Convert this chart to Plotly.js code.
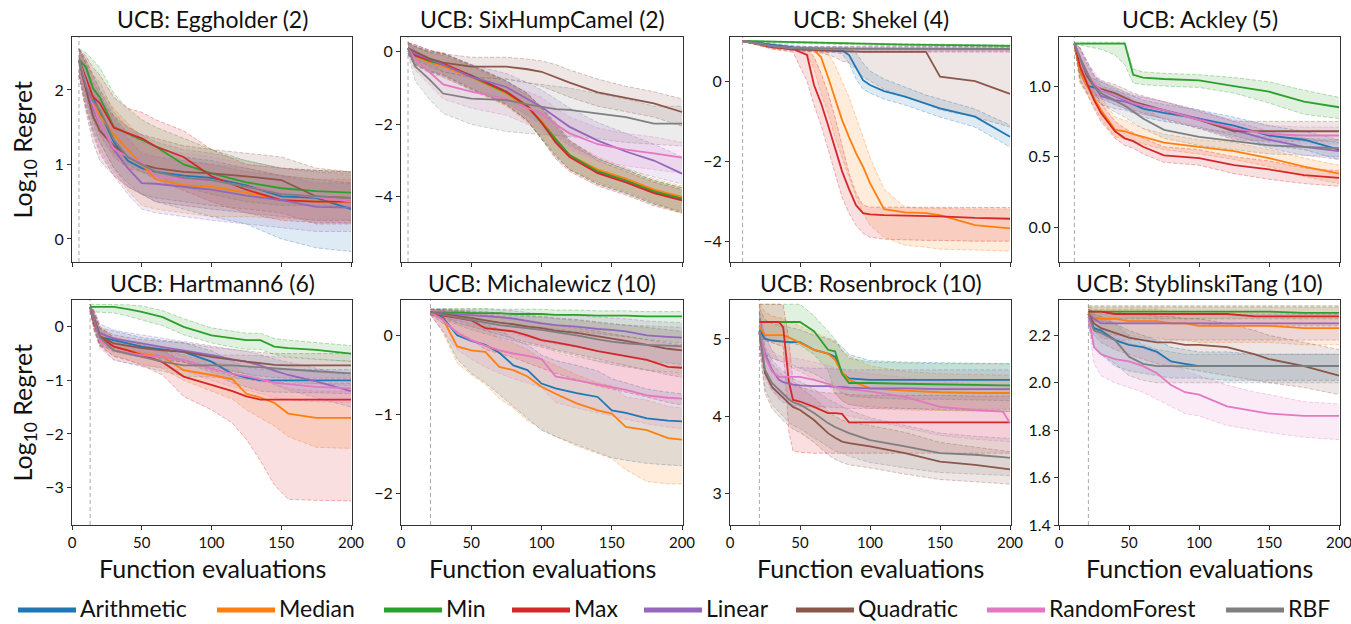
<!DOCTYPE html>
<html><head><meta charset="utf-8">
<script src="https://cdn.plot.ly/plotly-3.0.1.min.js"></script>
<style>body{margin:0;background:#fff}#chart{width:1351px;height:624px}</style>
</head><body><div id="chart"></div>
<script>
// ---------------- DATA ----------------
const METHODS = ['Arithmetic','Median','Min','Max','Linear','Quadratic','RandomForest','RBF'];
const TITLES = ['UCB: Eggholder (2)','UCB: SixHumpCamel (2)','UCB: Shekel (4)','UCB: Ackley (5)',
                'UCB: Hartmann6 (6)','UCB: Michalewicz (10)','UCB: Rosenbrock (10)','UCB: StyblinskiTang (10)'];
const X_TICKS = [0, 50, 100, 150, 200];
const Y_TICKS = [[0,1,2],[-4,-2,0],[-4,-2,0],[0,0.5,1.0],[-3,-2,-1,0],[-2,-1,0],[3,4,5],[1.4,1.6,1.8,2.0,2.2]];

// Eggholder (2)
const X_EGG = [5, 10, 15, 20, 30, 40, 50, 60, 80, 100, 125, 150, 175, 200];
const EGG_MEAN = [
 [2.40, 2.15, 1.90, 1.70, 1.30, 1.05, 0.95, 0.90, 0.85, 0.82, 0.72, 0.57, 0.55, 0.40],
 [2.40, 2.10, 1.85, 1.65, 1.40, 1.20, 1.00, 0.80, 0.72, 0.70, 0.62, 0.52, 0.50, 0.50],
 [2.41, 2.30, 2.02, 1.90, 1.50, 1.42, 1.33, 1.24, 1.00, 0.88, 0.76, 0.68, 0.64, 0.62],
 [2.40, 2.16, 1.91, 1.82, 1.49, 1.42, 1.35, 1.24, 1.10, 0.84, 0.66, 0.52, 0.50, 0.50],
 [2.40, 2.05, 1.75, 1.55, 1.20, 0.95, 0.75, 0.74, 0.70, 0.66, 0.58, 0.52, 0.43, 0.42],
 [2.40, 2.00, 1.65, 1.45, 1.25, 1.10, 1.00, 0.95, 0.90, 0.88, 0.84, 0.79, 0.57, 0.55],
 [2.40, 2.10, 1.80, 1.55, 1.21, 1.10, 1.03, 0.84, 0.80, 0.79, 0.70, 0.61, 0.56, 0.50],
 [2.40, 2.05, 1.85, 1.73, 1.33, 1.10, 1.00, 0.90, 0.82, 0.79, 0.70, 0.60, 0.57, 0.55]];
const EGG_LO = [
 [2.20, 1.85, 1.55, 1.30, 0.95, 0.75, 0.60, 0.50, 0.40, 0.30, 0.20, 0.00, -0.12, -0.17],
 [2.20, 1.80, 1.45, 1.20, 0.90, 0.65, 0.45, 0.40, 0.35, 0.30, 0.30, 0.28, 0.25, 0.25],
 [2.30, 2.00, 1.70, 1.50, 1.15, 1.00, 0.90, 0.85, 0.70, 0.60, 0.50, 0.45, 0.45, 0.42],
 [2.25, 1.90, 1.60, 1.40, 1.10, 0.95, 0.90, 0.80, 0.65, 0.50, 0.35, 0.25, 0.22, 0.22],
 [2.20, 1.75, 1.40, 1.15, 0.85, 0.60, 0.40, 0.35, 0.30, 0.25, 0.20, 0.15, 0.10, 0.10],
 [2.20, 1.70, 1.30, 1.05, 0.85, 0.70, 0.60, 0.55, 0.50, 0.45, 0.40, 0.35, 0.20, 0.20],
 [2.20, 1.80, 1.45, 1.15, 0.85, 0.70, 0.60, 0.50, 0.45, 0.40, 0.35, 0.30, 0.25, 0.20],
 [2.20, 1.75, 1.45, 1.30, 0.95, 0.70, 0.60, 0.50, 0.45, 0.40, 0.35, 0.30, 0.25, 0.25]];
const EGG_HI = [
 [2.55, 2.40, 2.20, 2.00, 1.65, 1.40, 1.30, 1.25, 1.10, 1.05, 0.95, 0.85, 0.80, 0.75],
 [2.55, 2.40, 2.20, 2.00, 1.75, 1.55, 1.35, 1.20, 1.05, 1.00, 0.95, 0.85, 0.80, 0.80],
 [2.55, 2.50, 2.40, 2.30, 1.95, 1.75, 1.60, 1.50, 1.35, 1.20, 1.05, 0.95, 0.92, 0.90],
 [2.55, 2.45, 2.30, 2.20, 1.90, 1.75, 1.70, 1.60, 1.45, 1.20, 1.00, 0.95, 0.92, 0.90],
 [2.55, 2.35, 2.10, 1.95, 1.60, 1.35, 1.15, 1.10, 1.05, 1.00, 0.90, 0.85, 0.75, 0.75],
 [2.55, 2.35, 2.05, 1.85, 1.65, 1.50, 1.40, 1.35, 1.25, 1.20, 1.15, 1.10, 0.95, 0.90],
 [2.55, 2.40, 2.15, 1.95, 1.60, 1.45, 1.40, 1.20, 1.15, 1.10, 1.00, 0.95, 0.90, 0.85],
 [2.55, 2.35, 2.20, 2.10, 1.70, 1.50, 1.40, 1.30, 1.20, 1.15, 1.05, 0.95, 0.90, 0.88]];

// SixHumpCamel (2)
const X_SHC = [5, 10, 20, 30, 50, 75, 90, 100, 110, 120, 140, 160, 180, 200];
const SHC_MEAN = [
 [0.10, -0.10, -0.25, -0.35, -0.65, -1.10, -1.50, -1.95, -2.45, -2.85, -3.30, -3.55, -3.85, -4.05],
 [0.10, -0.12, -0.28, -0.40, -0.70, -1.15, -1.55, -1.90, -2.40, -2.85, -3.25, -3.50, -3.80, -4.00],
 [0.10, -0.10, -0.25, -0.35, -0.68, -1.12, -1.50, -1.95, -2.40, -2.85, -3.30, -3.55, -3.85, -4.05],
 [0.10, -0.10, -0.22, -0.32, -0.66, -1.10, -1.50, -1.95, -2.50, -2.90, -3.35, -3.60, -3.90, -4.10],
 [0.10, -0.05, -0.20, -0.35, -0.69, -0.97, -1.30, -1.52, -1.80, -2.07, -2.45, -2.75, -3.00, -3.36],
 [0.10, 0.00, -0.18, -0.30, -0.41, -0.41, -0.48, -0.55, -0.70, -0.85, -1.12, -1.28, -1.42, -1.66],
 [0.10, -0.20, -0.55, -0.90, -1.10, -1.30, -1.55, -1.70, -2.00, -2.25, -2.55, -2.70, -2.80, -2.92],
 [0.10, -0.40, -0.75, -1.15, -1.29, -1.33, -1.45, -1.52, -1.58, -1.60, -1.70, -1.80, -1.98, -1.98]];
const SHC_LO = [
 [-0.05, -0.35, -0.55, -0.65, -1.00, -1.45, -1.90, -2.40, -2.90, -3.25, -3.65, -3.90, -4.20, -4.40],
 [-0.05, -0.37, -0.58, -0.70, -1.05, -1.50, -1.95, -2.35, -2.85, -3.25, -3.60, -3.85, -4.15, -4.45],
 [-0.05, -0.35, -0.55, -0.65, -1.03, -1.47, -1.90, -2.40, -2.85, -3.25, -3.65, -3.90, -4.20, -4.45],
 [-0.05, -0.35, -0.52, -0.62, -1.01, -1.45, -1.90, -2.40, -2.95, -3.30, -3.70, -3.95, -4.25, -4.45],
 [-0.05, -0.30, -0.50, -0.70, -1.05, -1.40, -1.75, -2.00, -2.30, -2.60, -2.95, -3.25, -3.45, -3.65],
 [-0.05, -0.20, -0.40, -0.55, -0.70, -0.75, -0.85, -0.95, -1.10, -1.25, -1.50, -1.65, -1.80, -2.05],
 [-0.05, -0.50, -0.90, -1.30, -1.55, -1.75, -2.00, -2.15, -2.45, -2.70, -3.00, -3.15, -3.25, -3.35],
 [-0.05, -0.80, -1.30, -1.70, -2.00, -2.20, -2.25, -2.28, -2.30, -2.32, -2.40, -2.50, -2.55, -2.60]];
const SHC_HI = [
 [0.25, 0.15, 0.00, -0.05, -0.35, -0.80, -1.15, -1.55, -2.00, -2.45, -2.95, -3.25, -3.55, -3.75],
 [0.25, 0.13, -0.03, -0.10, -0.40, -0.85, -1.20, -1.50, -1.95, -2.45, -2.90, -3.20, -3.50, -3.70],
 [0.25, 0.15, 0.00, -0.05, -0.38, -0.82, -1.15, -1.55, -1.95, -2.45, -2.95, -3.25, -3.55, -3.75],
 [0.25, 0.15, 0.03, -0.02, -0.36, -0.80, -1.15, -1.55, -2.05, -2.50, -3.00, -3.30, -3.60, -3.80],
 [0.25, 0.20, 0.05, -0.05, -0.35, -0.60, -0.85, -1.05, -1.30, -1.55, -1.95, -2.25, -2.55, -2.90],
 [0.25, 0.20, 0.05, -0.05, -0.15, -0.15, -0.20, -0.25, -0.35, -0.50, -0.75, -0.95, -1.10, -1.30],
 [0.25, 0.05, -0.20, -0.50, -0.70, -0.85, -1.10, -1.25, -1.55, -1.80, -2.10, -2.25, -2.35, -2.50],
 [0.25, 0.05, -0.25, -0.55, -0.70, -0.75, -0.85, -0.90, -0.95, -1.00, -1.15, -1.30, -1.50, -1.50]];

// Shekel (4)
const X_SHK = [9, 30, 45, 55, 60, 65, 70, 75, 80, 85, 90, 95, 100, 110, 125, 140, 150, 175, 200];
const SHK_MEAN = [
 [1.00, 0.90, 0.84, 0.82, 0.81, 0.80, 0.80, 0.79, 0.77, 0.65, 0.35, 0.02, -0.10, -0.25, -0.39, -0.57, -0.68, -0.89, -1.39],
 [1.00, 0.85, 0.80, 0.80, 0.77, 0.60, 0.10, -0.45, -0.97, -1.40, -1.80, -2.14, -2.55, -3.20, -3.28, -3.30, -3.35, -3.60, -3.68],
 [1.00, 0.98, 0.97, 0.96, 0.96, 0.95, 0.95, 0.95, 0.94, 0.94, 0.93, 0.93, 0.92, 0.92, 0.91, 0.90, 0.90, 0.89, 0.88],
 [1.00, 0.85, 0.80, 0.65, -0.10, -0.55, -1.10, -1.70, -2.25, -2.70, -3.10, -3.30, -3.33, -3.35, -3.36, -3.38, -3.38, -3.42, -3.44],
 [1.00, 0.88, 0.82, 0.81, 0.80, 0.80, 0.80, 0.80, 0.80, 0.80, 0.80, 0.80, 0.80, 0.80, 0.80, 0.80, 0.80, 0.80, 0.80],
 [1.00, 0.86, 0.80, 0.78, 0.77, 0.76, 0.75, 0.75, 0.74, 0.74, 0.73, 0.73, 0.73, 0.73, 0.73, 0.73, 0.11, 0.00, -0.32],
 [1.00, 0.87, 0.82, 0.81, 0.81, 0.80, 0.80, 0.80, 0.80, 0.80, 0.80, 0.80, 0.80, 0.80, 0.80, 0.80, 0.79, 0.79, 0.79],
 [1.00, 0.87, 0.82, 0.81, 0.81, 0.81, 0.81, 0.81, 0.81, 0.81, 0.81, 0.81, 0.81, 0.81, 0.81, 0.81, 0.81, 0.80, 0.80]];
const SHK_LO = [
 [1.00, 0.85, 0.78, 0.75, 0.74, 0.73, 0.72, 0.71, 0.68, 0.45, 0.05, -0.20, -0.30, -0.45, -0.60, -0.78, -0.90, -1.15, -1.65],
 [1.00, 0.80, 0.75, 0.70, 0.30, -0.30, -0.80, -1.40, -1.90, -2.40, -2.90, -3.30, -3.60, -3.90, -4.10, -4.15, -4.20, -4.22, -4.25],
 [0.99, 0.95, 0.94, 0.93, 0.93, 0.92, 0.92, 0.92, 0.91, 0.91, 0.90, 0.90, 0.89, 0.89, 0.88, 0.87, 0.87, 0.86, 0.85],
 [1.00, 0.80, 0.72, 0.00, -0.60, -1.10, -1.70, -2.30, -2.90, -3.30, -3.60, -3.80, -3.90, -3.95, -3.97, -3.98, -3.98, -4.00, -4.00],
 [1.00, 0.84, 0.76, 0.74, 0.73, 0.73, 0.73, 0.73, 0.73, 0.73, 0.73, 0.73, 0.73, 0.73, 0.73, 0.73, 0.73, 0.73, 0.73],
 [1.00, 0.82, 0.77, 0.76, 0.75, 0.70, 0.65, 0.60, 0.50, 0.45, 0.30, 0.10, 0.00, -0.20, -0.40, -0.57, -0.72, -0.90, -1.15],
 [1.00, 0.83, 0.76, 0.73, 0.72, 0.72, 0.72, 0.72, 0.72, 0.72, 0.72, 0.72, 0.72, 0.72, 0.72, 0.72, 0.72, 0.72, 0.72],
 [1.00, 0.84, 0.77, 0.75, 0.75, 0.75, 0.75, 0.75, 0.75, 0.75, 0.75, 0.75, 0.75, 0.75, 0.75, 0.75, 0.75, 0.75, 0.75]];
const SHK_HI = [
 [1.00, 0.93, 0.88, 0.86, 0.86, 0.85, 0.85, 0.85, 0.85, 0.82, 0.70, 0.45, 0.25, 0.05, -0.15, -0.35, -0.45, -0.70, -1.10],
 [1.00, 0.90, 0.85, 0.85, 0.82, 0.80, 0.70, 0.40, 0.00, -0.40, -0.90, -1.40, -1.90, -2.70, -3.15, -3.18, -3.18, -3.20, -3.20],
 [1.01, 1.00, 0.99, 0.98, 0.98, 0.97, 0.97, 0.97, 0.96, 0.96, 0.95, 0.95, 0.94, 0.94, 0.93, 0.92, 0.92, 0.91, 0.90],
 [1.00, 0.90, 0.85, 0.82, 0.60, 0.20, -0.30, -0.90, -1.60, -2.30, -2.80, -3.10, -3.15, -3.15, -3.15, -3.15, -3.15, -3.16, -3.16],
 [1.00, 0.92, 0.87, 0.86, 0.86, 0.86, 0.86, 0.86, 0.86, 0.86, 0.86, 0.86, 0.86, 0.86, 0.86, 0.86, 0.86, 0.86, 0.86],
 [1.00, 0.90, 0.84, 0.83, 0.82, 0.82, 0.82, 0.82, 0.82, 0.82, 0.82, 0.82, 0.82, 0.82, 0.82, 0.82, 0.82, 0.82, 0.82],
 [1.00, 0.91, 0.86, 0.85, 0.85, 0.85, 0.85, 0.85, 0.85, 0.85, 0.85, 0.85, 0.85, 0.85, 0.85, 0.85, 0.85, 0.85, 0.85],
 [1.00, 0.91, 0.86, 0.85, 0.85, 0.85, 0.85, 0.85, 0.85, 0.85, 0.85, 0.85, 0.85, 0.85, 0.85, 0.85, 0.85, 0.85, 0.85]];

// Ackley (5)
const X_ACK = [11, 15, 20, 25, 30, 40, 47, 53, 60, 75, 100, 125, 150, 175, 200];
const ACK_MEAN = [
 [1.30, 1.10, 1.00, 0.99, 0.97, 0.93, 0.90, 0.87, 0.84, 0.81, 0.77, 0.72, 0.65, 0.62, 0.55],
 [1.30, 1.10, 1.00, 0.92, 0.83, 0.69, 0.68, 0.66, 0.64, 0.60, 0.57, 0.54, 0.49, 0.43, 0.38],
 [1.30, 1.30, 1.30, 1.30, 1.30, 1.30, 1.30, 1.08, 1.06, 1.05, 1.04, 1.00, 0.96, 0.89, 0.85],
 [1.30, 1.14, 1.02, 0.90, 0.81, 0.68, 0.63, 0.61, 0.57, 0.51, 0.49, 0.44, 0.41, 0.37, 0.35],
 [1.30, 1.20, 1.10, 1.00, 0.93, 0.90, 0.89, 0.87, 0.86, 0.83, 0.77, 0.69, 0.62, 0.57, 0.54],
 [1.30, 1.20, 1.07, 1.00, 0.98, 0.95, 0.92, 0.89, 0.87, 0.83, 0.76, 0.68, 0.68, 0.68, 0.68],
 [1.30, 1.20, 1.09, 1.02, 0.97, 0.93, 0.90, 0.88, 0.86, 0.83, 0.76, 0.70, 0.66, 0.65, 0.65],
 [1.30, 1.20, 1.09, 1.00, 0.95, 0.90, 0.86, 0.82, 0.77, 0.69, 0.64, 0.61, 0.58, 0.57, 0.56]];
const ACK_LO = [
 [1.29, 1.03, 0.95, 0.93, 0.91, 0.87, 0.84, 0.81, 0.78, 0.75, 0.71, 0.65, 0.58, 0.55, 0.48],
 [1.29, 1.02, 0.94, 0.86, 0.77, 0.64, 0.63, 0.61, 0.59, 0.55, 0.52, 0.48, 0.43, 0.36, 0.31],
 [1.29, 1.29, 1.28, 1.27, 1.26, 1.22, 1.15, 1.02, 1.01, 1.00, 0.99, 0.95, 0.88, 0.80, 0.77],
 [1.29, 1.05, 0.95, 0.84, 0.75, 0.63, 0.58, 0.56, 0.52, 0.46, 0.44, 0.38, 0.34, 0.31, 0.29],
 [1.29, 1.12, 1.02, 0.93, 0.87, 0.84, 0.83, 0.81, 0.80, 0.77, 0.71, 0.63, 0.56, 0.51, 0.48],
 [1.29, 1.12, 1.00, 0.94, 0.92, 0.89, 0.86, 0.83, 0.81, 0.77, 0.70, 0.62, 0.61, 0.61, 0.61],
 [1.29, 1.12, 1.02, 0.95, 0.91, 0.87, 0.84, 0.82, 0.80, 0.77, 0.70, 0.64, 0.60, 0.59, 0.59],
 [1.29, 1.12, 1.00, 0.92, 0.87, 0.82, 0.78, 0.74, 0.70, 0.63, 0.58, 0.55, 0.52, 0.51, 0.50]];
const ACK_HI = [
 [1.31, 1.20, 1.08, 1.05, 1.03, 0.99, 0.96, 0.93, 0.90, 0.87, 0.83, 0.78, 0.72, 0.68, 0.62],
 [1.31, 1.20, 1.08, 1.00, 0.92, 0.78, 0.76, 0.73, 0.70, 0.66, 0.62, 0.60, 0.55, 0.49, 0.44],
 [1.31, 1.31, 1.31, 1.31, 1.31, 1.31, 1.31, 1.12, 1.10, 1.09, 1.08, 1.06, 1.03, 0.97, 0.92],
 [1.31, 1.22, 1.10, 0.97, 0.88, 0.75, 0.70, 0.67, 0.63, 0.57, 0.55, 0.50, 0.47, 0.42, 0.40],
 [1.31, 1.27, 1.18, 1.08, 1.00, 0.97, 0.95, 0.93, 0.92, 0.89, 0.83, 0.75, 0.68, 0.63, 0.60],
 [1.31, 1.27, 1.15, 1.07, 1.04, 1.01, 0.98, 0.95, 0.93, 0.89, 0.82, 0.75, 0.75, 0.75, 0.75],
 [1.31, 1.27, 1.17, 1.10, 1.04, 0.99, 0.96, 0.94, 0.92, 0.89, 0.82, 0.76, 0.72, 0.71, 0.71],
 [1.31, 1.27, 1.17, 1.08, 1.03, 0.98, 0.94, 0.90, 0.85, 0.76, 0.70, 0.67, 0.64, 0.63, 0.62]];

// Hartmann6 (6)
const X_HRT = [13, 16, 20, 30, 40, 50, 65, 80, 100, 115, 125, 135, 145, 155, 175, 200];
const HRT_MEAN = [
 [0.37, 0.10, -0.19, -0.25, -0.31, -0.37, -0.42, -0.47, -0.65, -0.88, -0.95, -1.00, -1.00, -1.00, -1.00, -1.00],
 [0.37, 0.15, -0.16, -0.37, -0.44, -0.50, -0.56, -0.81, -0.90, -0.98, -1.25, -1.32, -1.42, -1.62, -1.70, -1.70],
 [0.37, 0.37, 0.37, 0.37, 0.33, 0.28, 0.18, 0.00, -0.16, -0.22, -0.25, -0.25, -0.37, -0.40, -0.43, -0.50],
 [0.37, 0.05, -0.19, -0.37, -0.44, -0.53, -0.66, -0.93, -1.09, -1.20, -1.30, -1.36, -1.36, -1.36, -1.36, -1.36],
 [0.37, 0.15, -0.12, -0.22, -0.27, -0.31, -0.38, -0.44, -0.53, -0.61, -0.65, -0.72, -0.82, -0.90, -1.02, -1.20],
 [0.37, 0.12, -0.18, -0.31, -0.36, -0.40, -0.44, -0.47, -0.56, -0.62, -0.65, -0.68, -0.71, -0.72, -0.72, -0.72],
 [0.37, 0.10, -0.25, -0.44, -0.49, -0.53, -0.57, -0.62, -0.78, -0.88, -0.92, -0.98, -1.04, -1.07, -1.12, -1.15],
 [0.37, 0.10, -0.20, -0.44, -0.50, -0.56, -0.65, -0.72, -0.72, -0.72, -0.74, -0.76, -0.78, -0.80, -0.83, -0.87]];
const HRT_LO = [
 [0.30, -0.05, -0.35, -0.42, -0.48, -0.55, -0.60, -0.66, -0.85, -1.05, -1.12, -1.20, -1.22, -1.22, -1.23, -1.25],
 [0.30, 0.00, -0.35, -0.55, -0.62, -0.70, -0.78, -1.00, -1.20, -1.35, -1.55, -1.70, -1.85, -2.05, -2.25, -2.27],
 [0.30, 0.28, 0.27, 0.26, 0.20, 0.13, 0.02, -0.15, -0.30, -0.38, -0.42, -0.42, -0.52, -0.56, -0.60, -0.65],
 [0.30, -0.10, -0.35, -0.55, -0.62, -0.72, -0.90, -1.30, -1.55, -1.80, -2.10, -2.50, -2.95, -3.22, -3.24, -3.25],
 [0.30, 0.00, -0.28, -0.38, -0.43, -0.48, -0.55, -0.62, -0.72, -0.82, -0.88, -0.96, -1.08, -1.18, -1.32, -1.50],
 [0.30, -0.03, -0.33, -0.47, -0.52, -0.57, -0.62, -0.66, -0.76, -0.84, -0.88, -0.92, -0.95, -0.96, -0.96, -0.96],
 [0.30, -0.05, -0.40, -0.62, -0.68, -0.72, -0.76, -0.82, -1.00, -1.12, -1.18, -1.25, -1.32, -1.36, -1.40, -1.42],
 [0.30, -0.05, -0.36, -0.62, -0.68, -0.74, -0.84, -0.92, -0.94, -0.95, -0.97, -0.99, -1.01, -1.03, -1.06, -1.10]];
const HRT_HI = [
 [0.42, 0.25, -0.02, -0.08, -0.14, -0.20, -0.25, -0.30, -0.45, -0.65, -0.75, -0.80, -0.80, -0.80, -0.80, -0.80],
 [0.42, 0.30, 0.02, -0.20, -0.27, -0.32, -0.38, -0.55, -0.65, -0.72, -0.90, -1.00, -1.05, -1.15, -1.20, -1.20],
 [0.42, 0.42, 0.42, 0.42, 0.41, 0.39, 0.30, 0.15, -0.02, -0.08, -0.12, -0.12, -0.22, -0.25, -0.30, -0.35],
 [0.42, 0.25, -0.02, -0.20, -0.26, -0.34, -0.45, -0.65, -0.80, -0.92, -0.98, -1.02, -1.04, -1.05, -1.05, -1.05],
 [0.42, 0.30, 0.05, -0.06, -0.11, -0.15, -0.22, -0.28, -0.36, -0.42, -0.46, -0.52, -0.60, -0.66, -0.78, -0.92],
 [0.42, 0.27, -0.03, -0.15, -0.20, -0.24, -0.27, -0.30, -0.38, -0.43, -0.45, -0.48, -0.50, -0.50, -0.50, -0.50],
 [0.42, 0.25, -0.08, -0.27, -0.31, -0.35, -0.38, -0.42, -0.56, -0.65, -0.68, -0.73, -0.78, -0.80, -0.85, -0.88],
 [0.42, 0.25, -0.04, -0.27, -0.32, -0.38, -0.46, -0.52, -0.52, -0.52, -0.53, -0.54, -0.56, -0.58, -0.61, -0.64]];

// Michalewicz (10)
const X_MCH = [21, 30, 40, 50, 60, 70, 80, 90, 100, 110, 125, 140, 150, 160, 175, 190, 200];
const MCH_MEAN = [
 [0.29, 0.22, 0.00, -0.07, -0.12, -0.22, -0.38, -0.44, -0.61, -0.67, -0.73, -0.78, -0.95, -0.98, -1.05, -1.08, -1.09],
 [0.29, 0.20, -0.14, -0.19, -0.21, -0.40, -0.44, -0.52, -0.65, -0.74, -0.86, -0.95, -0.99, -1.16, -1.20, -1.30, -1.32],
 [0.29, 0.29, 0.29, 0.28, 0.28, 0.28, 0.27, 0.27, 0.27, 0.26, 0.26, 0.25, 0.25, 0.25, 0.24, 0.24, 0.24],
 [0.29, 0.25, 0.22, 0.19, 0.09, 0.07, 0.05, 0.00, -0.06, -0.09, -0.14, -0.20, -0.23, -0.26, -0.31, -0.40, -0.41],
 [0.29, 0.28, 0.27, 0.26, 0.25, 0.23, 0.21, 0.18, 0.15, 0.13, 0.11, 0.08, 0.07, 0.05, 0.00, -0.02, -0.03],
 [0.29, 0.27, 0.24, 0.22, 0.19, 0.16, 0.14, 0.11, 0.09, 0.06, 0.03, -0.01, -0.04, -0.07, -0.12, -0.17, -0.19],
 [0.29, 0.19, 0.03, -0.06, -0.13, -0.19, -0.23, -0.26, -0.30, -0.52, -0.57, -0.62, -0.65, -0.69, -0.76, -0.79, -0.80],
 [0.29, 0.26, 0.22, 0.19, 0.16, 0.13, 0.11, 0.09, 0.07, 0.04, 0.00, -0.05, -0.08, -0.10, -0.12, -0.13, -0.14]];
const MCH_LO = [
 [0.26, 0.05, -0.30, -0.48, -0.60, -0.75, -0.90, -1.05, -1.20, -1.28, -1.38, -1.48, -1.55, -1.58, -1.62, -1.64, -1.65],
 [0.26, 0.03, -0.35, -0.50, -0.62, -0.80, -0.92, -1.08, -1.18, -1.28, -1.40, -1.50, -1.56, -1.70, -1.85, -1.88, -1.88],
 [0.26, 0.24, 0.22, 0.20, 0.18, 0.16, 0.14, 0.12, 0.10, 0.08, 0.05, 0.02, 0.00, -0.02, -0.05, -0.08, -0.10],
 [0.26, 0.15, 0.05, -0.05, -0.18, -0.23, -0.28, -0.35, -0.42, -0.48, -0.56, -0.64, -0.68, -0.72, -0.78, -0.85, -0.88],
 [0.26, 0.22, 0.18, 0.14, 0.11, 0.07, 0.03, -0.02, -0.07, -0.11, -0.15, -0.20, -0.23, -0.26, -0.32, -0.35, -0.37],
 [0.26, 0.21, 0.16, 0.11, 0.06, 0.01, -0.04, -0.09, -0.13, -0.18, -0.24, -0.30, -0.34, -0.38, -0.44, -0.50, -0.53],
 [0.26, 0.05, -0.18, -0.30, -0.40, -0.48, -0.55, -0.60, -0.66, -0.85, -0.92, -0.98, -1.02, -1.06, -1.12, -1.16, -1.18],
 [0.26, 0.20, 0.13, 0.07, 0.02, -0.03, -0.07, -0.11, -0.15, -0.20, -0.26, -0.33, -0.37, -0.40, -0.44, -0.46, -0.48]];
const MCH_HI = [
 [0.33, 0.32, 0.22, 0.18, 0.14, 0.08, -0.05, -0.12, -0.25, -0.32, -0.38, -0.45, -0.55, -0.60, -0.68, -0.72, -0.74],
 [0.33, 0.32, 0.15, 0.12, 0.10, -0.05, -0.10, -0.18, -0.30, -0.38, -0.50, -0.60, -0.64, -0.78, -0.82, -0.90, -0.92],
 [0.33, 0.34, 0.34, 0.34, 0.34, 0.33, 0.33, 0.33, 0.33, 0.32, 0.32, 0.31, 0.31, 0.31, 0.30, 0.30, 0.30],
 [0.33, 0.32, 0.31, 0.30, 0.26, 0.24, 0.22, 0.19, 0.16, 0.13, 0.09, 0.05, 0.02, -0.01, -0.05, -0.10, -0.12],
 [0.33, 0.33, 0.33, 0.33, 0.33, 0.32, 0.31, 0.29, 0.27, 0.26, 0.25, 0.23, 0.22, 0.21, 0.18, 0.17, 0.16],
 [0.33, 0.33, 0.32, 0.31, 0.30, 0.28, 0.27, 0.25, 0.24, 0.22, 0.20, 0.17, 0.15, 0.13, 0.10, 0.07, 0.05],
 [0.33, 0.30, 0.20, 0.14, 0.09, 0.04, 0.01, -0.02, -0.05, -0.22, -0.28, -0.32, -0.35, -0.38, -0.44, -0.48, -0.50],
 [0.33, 0.33, 0.31, 0.29, 0.28, 0.26, 0.25, 0.24, 0.23, 0.21, 0.19, 0.16, 0.14, 0.13, 0.12, 0.11, 0.10]];

// Rosenbrock (10)
const X_RSB = [21, 25, 30, 35, 38, 42, 45, 50, 60, 70, 75, 80, 85, 100, 125, 150, 175, 195, 200];
const RSB_MEAN = [
 [5.12, 5.00, 4.98, 4.97, 4.96, 4.96, 4.96, 4.96, 4.86, 4.81, 4.77, 4.56, 4.49, 4.47, 4.47, 4.47, 4.47, 4.47, 4.47],
 [5.16, 5.05, 5.05, 5.05, 5.05, 5.02, 4.99, 4.95, 4.86, 4.81, 4.73, 4.56, 4.47, 4.36, 4.33, 4.31, 4.30, 4.30, 4.30],
 [5.22, 5.22, 5.22, 5.22, 5.22, 5.22, 5.22, 5.22, 5.10, 4.86, 4.84, 4.55, 4.43, 4.43, 4.42, 4.41, 4.40, 4.40, 4.40],
 [5.22, 5.22, 5.22, 5.22, 5.15, 4.45, 4.21, 4.19, 4.12, 4.04, 4.04, 4.03, 3.92, 3.92, 3.92, 3.92, 3.92, 3.92, 3.92],
 [5.07, 4.81, 4.60, 4.47, 4.44, 4.42, 4.41, 4.40, 4.39, 4.39, 4.38, 4.38, 4.37, 4.36, 4.36, 4.35, 4.35, 4.35, 4.35],
 [5.10, 4.56, 4.38, 4.29, 4.23, 4.17, 4.12, 4.08, 3.95, 3.78, 3.72, 3.67, 3.65, 3.61, 3.52, 3.41, 3.37, 3.32, 3.31],
 [5.10, 4.77, 4.58, 4.51, 4.51, 4.51, 4.51, 4.51, 4.47, 4.42, 4.38, 4.36, 4.35, 4.32, 4.25, 4.12, 4.08, 4.06, 3.91],
 [5.10, 4.60, 4.43, 4.34, 4.29, 4.22, 4.18, 4.15, 4.04, 3.91, 3.86, 3.82, 3.78, 3.69, 3.61, 3.52, 3.50, 3.47, 3.46]];
const RSB_LO = [
 [4.95, 4.80, 4.75, 4.72, 4.70, 4.68, 4.66, 4.62, 4.55, 4.45, 4.38, 4.30, 4.26, 4.24, 4.22, 4.22, 4.21, 4.20, 4.20],
 [4.95, 4.80, 4.75, 4.72, 4.70, 4.66, 4.62, 4.58, 4.48, 4.40, 4.30, 4.20, 4.15, 4.10, 4.08, 4.07, 4.06, 4.06, 4.06],
 [5.00, 5.00, 4.98, 4.97, 4.96, 4.95, 4.94, 4.92, 4.80, 4.60, 4.30, 4.20, 4.15, 4.12, 4.10, 4.08, 4.07, 4.06, 4.06],
 [5.00, 4.98, 4.95, 4.92, 4.90, 3.80, 3.55, 3.53, 3.52, 3.52, 3.52, 3.52, 3.52, 3.52, 3.52, 3.52, 3.52, 3.52, 3.52],
 [4.90, 4.55, 4.35, 4.22, 4.18, 4.15, 4.14, 4.13, 4.12, 4.12, 4.11, 4.11, 4.10, 4.10, 4.10, 4.09, 4.09, 4.09, 4.09],
 [4.90, 4.30, 4.10, 4.00, 3.94, 3.88, 3.83, 3.79, 3.66, 3.50, 3.44, 3.40, 3.37, 3.33, 3.25, 3.18, 3.15, 3.13, 3.12],
 [4.90, 4.50, 4.32, 4.25, 4.24, 4.23, 4.22, 4.20, 4.15, 4.10, 4.05, 4.02, 4.00, 3.95, 3.85, 3.75, 3.70, 3.68, 3.67],
 [4.90, 4.35, 4.15, 4.05, 4.00, 3.92, 3.88, 3.84, 3.72, 3.60, 3.55, 3.52, 3.48, 3.40, 3.33, 3.27, 3.25, 3.24, 3.23]];
const RSB_HI = [
 [5.40, 5.25, 5.20, 5.18, 5.17, 5.15, 5.14, 5.12, 5.05, 5.00, 4.96, 4.90, 4.80, 4.72, 4.70, 4.69, 4.68, 4.68, 4.68],
 [5.45, 5.35, 5.30, 5.28, 5.26, 5.22, 5.20, 5.17, 5.08, 5.02, 4.98, 4.85, 4.78, 4.65, 4.58, 4.55, 4.54, 4.53, 4.53],
 [5.45, 5.45, 5.45, 5.45, 5.45, 5.45, 5.45, 5.45, 5.30, 5.10, 5.00, 4.85, 4.75, 4.70, 4.69, 4.68, 4.68, 4.68, 4.68],
 [5.45, 5.45, 5.45, 5.45, 5.44, 5.00, 4.45, 4.38, 4.32, 4.30, 4.30, 4.30, 4.28, 4.27, 4.27, 4.27, 4.26, 4.26, 4.26],
 [5.30, 5.05, 4.85, 4.72, 4.68, 4.65, 4.64, 4.63, 4.62, 4.62, 4.61, 4.61, 4.60, 4.60, 4.60, 4.60, 4.60, 4.60, 4.60],
 [5.35, 4.85, 4.68, 4.58, 4.52, 4.46, 4.41, 4.37, 4.24, 4.07, 4.00, 3.95, 3.92, 3.88, 3.79, 3.66, 3.60, 3.55, 3.54],
 [5.35, 5.05, 4.85, 4.78, 4.77, 4.76, 4.75, 4.74, 4.70, 4.66, 4.62, 4.60, 4.58, 4.55, 4.50, 4.45, 4.42, 4.40, 4.40],
 [5.35, 4.90, 4.72, 4.63, 4.58, 4.52, 4.48, 4.45, 4.35, 4.22, 4.17, 4.12, 4.08, 3.98, 3.88, 3.78, 3.74, 3.72, 3.71]];

// StyblinskiTang (10)
const X_STY = [21, 25, 30, 40, 50, 60, 70, 80, 90, 100, 120, 140, 150, 175, 200];
const STY_MEAN = [
 [2.29, 2.23, 2.22, 2.18, 2.16, 2.15, 2.13, 2.09, 2.08, 2.07, 2.07, 2.07, 2.07, 2.07, 2.07],
 [2.30, 2.27, 2.27, 2.27, 2.26, 2.26, 2.26, 2.25, 2.25, 2.24, 2.24, 2.24, 2.24, 2.23, 2.23],
 [2.30, 2.30, 2.30, 2.30, 2.30, 2.30, 2.30, 2.30, 2.30, 2.30, 2.30, 2.30, 2.30, 2.295, 2.295],
 [2.30, 2.30, 2.30, 2.29, 2.29, 2.29, 2.29, 2.29, 2.29, 2.29, 2.29, 2.28, 2.28, 2.28, 2.28],
 [2.29, 2.27, 2.25, 2.25, 2.25, 2.25, 2.25, 2.25, 2.25, 2.25, 2.25, 2.25, 2.25, 2.25, 2.25],
 [2.29, 2.25, 2.23, 2.21, 2.19, 2.18, 2.17, 2.17, 2.16, 2.16, 2.15, 2.12, 2.10, 2.07, 2.03],
 [2.28, 2.15, 2.12, 2.10, 2.09, 2.07, 2.04, 1.99, 1.96, 1.95, 1.90, 1.88, 1.87, 1.86, 1.86],
 [2.29, 2.22, 2.21, 2.18, 2.11, 2.08, 2.07, 2.07, 2.07, 2.07, 2.07, 2.07, 2.07, 2.07, 2.07]];
const STY_LO = [
 [2.25, 2.15, 2.12, 2.07, 2.05, 2.04, 2.03, 2.02, 2.02, 2.02, 2.01, 2.01, 2.01, 2.01, 2.01],
 [2.28, 2.22, 2.21, 2.20, 2.20, 2.19, 2.19, 2.18, 2.18, 2.17, 2.17, 2.17, 2.17, 2.16, 2.16],
 [2.27, 2.27, 2.27, 2.27, 2.27, 2.27, 2.27, 2.27, 2.27, 2.27, 2.27, 2.27, 2.27, 2.27, 2.27],
 [2.27, 2.26, 2.26, 2.25, 2.25, 2.25, 2.25, 2.25, 2.25, 2.25, 2.24, 2.24, 2.24, 2.24, 2.24],
 [2.26, 2.22, 2.19, 2.18, 2.18, 2.18, 2.18, 2.18, 2.18, 2.18, 2.18, 2.18, 2.18, 2.18, 2.18],
 [2.26, 2.20, 2.17, 2.14, 2.12, 2.10, 2.08, 2.07, 2.06, 2.05, 2.03, 2.01, 2.00, 1.98, 1.95],
 [2.25, 2.08, 2.03, 2.00, 1.98, 1.96, 1.93, 1.90, 1.87, 1.86, 1.82, 1.80, 1.79, 1.77, 1.76],
 [2.25, 2.15, 2.12, 2.08, 2.03, 2.01, 2.00, 2.00, 2.00, 2.00, 2.00, 2.00, 2.00, 2.00, 2.00]];
const STY_HI = [
 [2.31, 2.29, 2.28, 2.25, 2.22, 2.20, 2.18, 2.15, 2.14, 2.13, 2.13, 2.12, 2.12, 2.12, 2.12],
 [2.32, 2.31, 2.31, 2.31, 2.31, 2.31, 2.31, 2.30, 2.30, 2.30, 2.30, 2.30, 2.30, 2.29, 2.29],
 [2.325, 2.325, 2.325, 2.325, 2.325, 2.325, 2.325, 2.325, 2.325, 2.325, 2.325, 2.325, 2.325, 2.325, 2.325],
 [2.32, 2.32, 2.32, 2.32, 2.32, 2.32, 2.32, 2.32, 2.32, 2.32, 2.32, 2.32, 2.32, 2.32, 2.32],
 [2.31, 2.30, 2.29, 2.29, 2.29, 2.29, 2.29, 2.29, 2.29, 2.29, 2.29, 2.29, 2.29, 2.29, 2.29],
 [2.31, 2.30, 2.30, 2.30, 2.29, 2.29, 2.28, 2.28, 2.27, 2.27, 2.25, 2.22, 2.20, 2.17, 2.14],
 [2.30, 2.24, 2.21, 2.19, 2.17, 2.15, 2.12, 2.08, 2.05, 2.03, 1.99, 1.96, 1.95, 1.92, 1.91],
 [2.31, 2.28, 2.27, 2.25, 2.20, 2.16, 2.14, 2.13, 2.12, 2.12, 2.12, 2.12, 2.12, 2.12, 2.12]];

// ---------------- STYLE / LAYOUT ----------------
const COLORS = ['31,119,180','255,127,14','44,160,44','214,39,40','148,103,189','140,86,75','227,119,194','127,127,127'];
const FONT = "Lato, 'Open Sans', 'DejaVu Sans', sans-serif";
const W = 1351, H = 624;
const COLS = [[72,352],[401,683],[730,1011],[1059,1340]];
const ROWS = [[37,262],[300,525]];
const YRANGES = [[-0.31,2.71],[-5.8,0.41],[-4.52,1.10],[-0.245,1.347],[-3.70,0.50],[-2.40,0.447],[2.59,5.505],[1.4,2.349]];
const YFMT = ['', '', '', '.1f', '', '', '', '.1f'];
const LEGEND_X = [18, 217, 384, 512, 644, 796, 987, 1226];   // pixel start of each legend swatch
const LEGEND_Y = 610, SWATCH = 58;

const DATA = [
  [X_EGG, EGG_MEAN, EGG_LO, EGG_HI],
  [X_SHC, SHC_MEAN, SHC_LO, SHC_HI],
  [X_SHK, SHK_MEAN, SHK_LO, SHK_HI],
  [X_ACK, ACK_MEAN, ACK_LO, ACK_HI],
  [X_HRT, HRT_MEAN, HRT_LO, HRT_HI],
  [X_MCH, MCH_MEAN, MCH_LO, MCH_HI],
  [X_RSB, RSB_MEAN, RSB_LO, RSB_HI],
  [X_STY, STY_MEAN, STY_LO, STY_HI]];

const px = v => v / W, py = v => 1 - v / H;
const traces = [], shapes = [], annotations = [];
const layout = {
  width: W, height: H, autosize: false,
  margin: {l:0, r:0, t:0, b:0},
  paper_bgcolor: '#fff', plot_bgcolor: '#fff',
  font: {family: FONT, color: '#111'},
  showlegend: false,
};

DATA.forEach((d, i) => {
  const [X, MEAN, LO, HI] = d;
  const n = i + 1, sfx = n === 1 ? '' : String(n);
  const col = i % 4, row = Math.floor(i / 4);
  const xa = 'x' + sfx, ya = 'y' + sfx;
  const axBase = {showline: true, mirror: true, linecolor: '#333', linewidth: 1,
    ticks: 'outside', ticklen: 4, tickwidth: 1, tickcolor: '#333', showgrid: false, zeroline: false,
    ticklabeloverflow: 'allow', tickfont: {family: FONT, size: 16, color: '#111'}};
  layout['xaxis' + sfx] = Object.assign({}, axBase, {
    domain: [px(COLS[col][0]), px(COLS[col][1])], anchor: ya, range: [0, 200.7],
    tickvals: X_TICKS, showticklabels: row === 1, tickfont: {family: FONT, size: 15, color: '#111'}});
  layout['yaxis' + sfx] = Object.assign({}, axBase, {
    domain: [py(ROWS[row][1]), py(ROWS[row][0])], anchor: xa, range: YRANGES[i],
    tickvals: Y_TICKS[i], tickformat: YFMT[i]});
  for (let m = 0; m < 8; m++) {
    const c = COLORS[m];
    traces.push({x: X, y: LO[m], xaxis: xa, yaxis: ya, mode: 'lines', showlegend: false, hoverinfo: 'skip',
      line: {color: `rgba(${c},0.35)`, width: 1, dash: '4px,2px'}});
    traces.push({x: X, y: HI[m], xaxis: xa, yaxis: ya, mode: 'lines', showlegend: false, hoverinfo: 'skip',
      fill: 'tonexty', fillcolor: `rgba(${c},0.15)`,
      line: {color: `rgba(${c},0.35)`, width: 1, dash: '4px,2px'}});
  }
  for (let m = 0; m < 8; m++) {
    traces.push({x: X, y: MEAN[m], xaxis: xa, yaxis: ya, mode: 'lines', showlegend: false, hoverinfo: 'skip',
      name: METHODS[m], line: {color: `rgb(${COLORS[m]})`, width: 1.8}});
  }
  shapes.push({type: 'line', xref: xa, yref: ya + ' domain', x0: X[0], x1: X[0], y0: 0, y1: 1,
    line: {color: '#aaa', width: 1, dash: '4px,3px'}, layer: 'below'});
  annotations.push({text: TITLES[i], xref: 'paper', yref: 'paper', showarrow: false,
    x: px((COLS[col][0] + COLS[col][1]) / 2), y: py(row === 0 ? 19 : 283), xanchor: 'center', yanchor: 'middle',
    font: {family: FONT, size: 23, color: '#111'}});
  if (row === 1) {
    annotations.push({text: 'Function evaluations', xref: 'paper', yref: 'paper', showarrow: false,
      x: px((COLS[col][0] + COLS[col][1]) / 2), y: py(568), xanchor: 'center', yanchor: 'middle',
      font: {family: FONT, size: 25, color: '#111'}});
  }
  if (col === 0) {
    annotations.push({text: 'Log<sub>10</sub> Regret', xref: 'paper', yref: 'paper', showarrow: false,
      x: px(23), y: py((ROWS[row][0] + ROWS[row][1]) / 2), xanchor: 'center', yanchor: 'middle', textangle: -90,
      font: {family: FONT, size: 25, color: '#111'}});
  }
});

// legend drawn as swatches + text
METHODS.forEach((name, m) => {
  const x0 = LEGEND_X[m];
  shapes.push({type: 'line', xref: 'paper', yref: 'paper', x0: px(x0), x1: px(x0 + SWATCH),
    y0: py(LEGEND_Y), y1: py(LEGEND_Y), line: {color: `rgb(${COLORS[m]})`, width: 5}});
  annotations.push({text: name, xref: 'paper', yref: 'paper', showarrow: false,
    x: px(x0 + SWATCH + 3), y: py(623), xanchor: 'left', yanchor: 'bottom', borderpad: 0,
    font: {family: FONT, size: 23, color: '#111'}});
});

layout.shapes = shapes;
layout.annotations = annotations;
Plotly.newPlot('chart', traces, layout, {staticPlot: true, displayModeBar: false});
</script>
</body></html>
